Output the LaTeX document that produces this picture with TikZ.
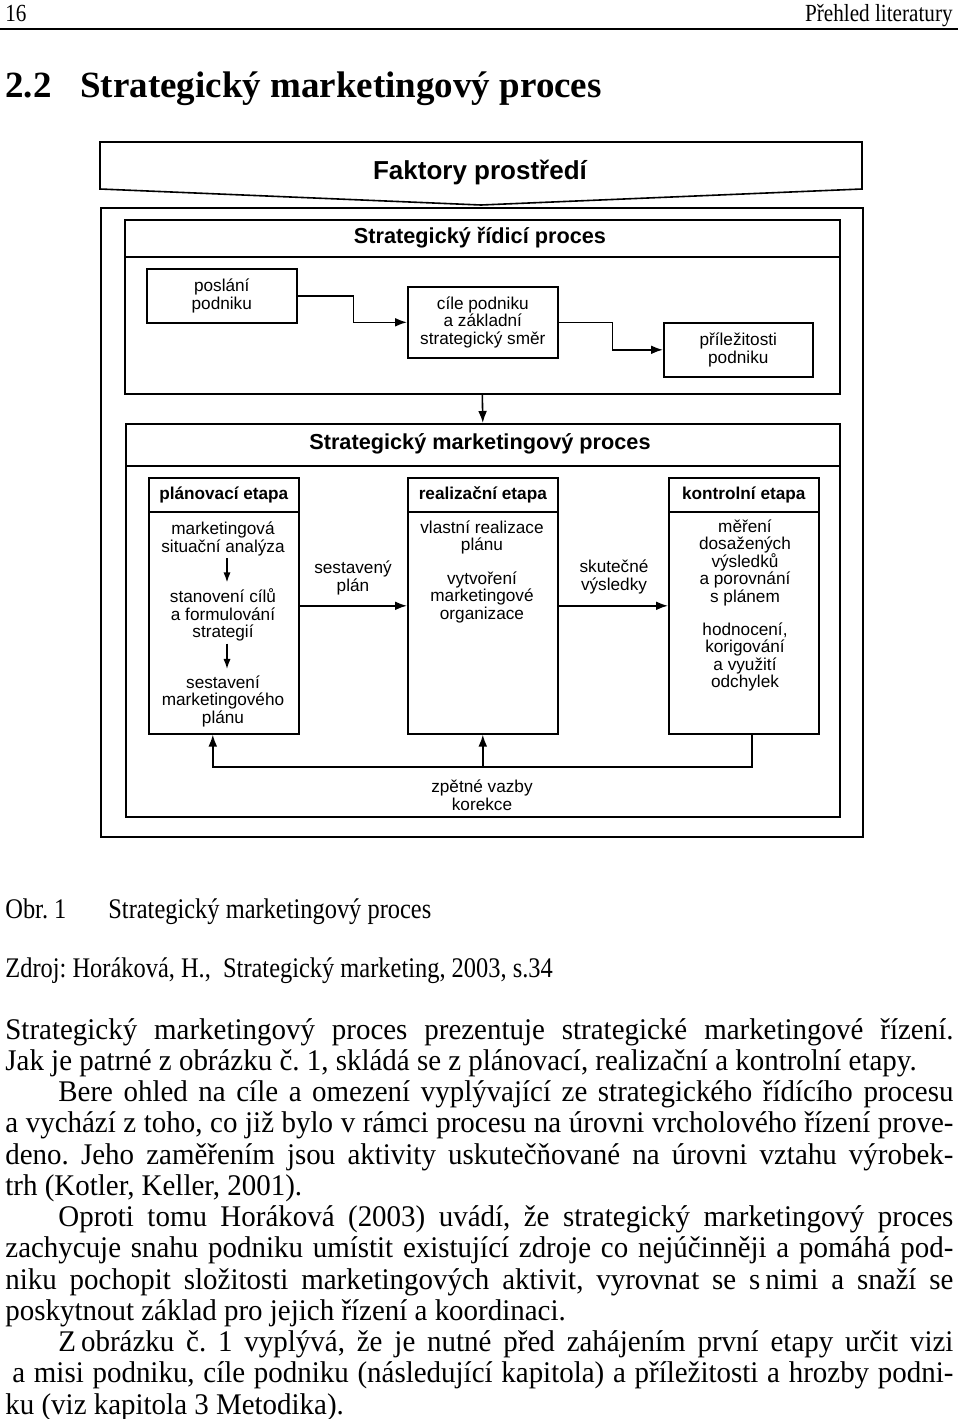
\documentclass[tikz,border=0pt]{standalone}
\usepackage{fontspec}
\setmainfont{Liberation Serif}
\newfontfamily\bodyfont[FakeStretch=0.965]{Liberation Serif}
\newfontfamily\capfont[FakeStretch=0.86]{Liberation Serif}
\newfontfamily\diagfont{Liberation Sans}
\usetikzlibrary{arrows.meta,calc}

% one justified line of the page text
\newcommand{\jl}[1]{\makebox[474pt][s]{#1}}
\newcommand{\il}[1]{\makebox[474pt][s]{\hspace*{26.5pt}#1}}

\tikzset{
  frame/.style={draw, line width=0.8pt, inner sep=0pt, anchor=north west},
  box/.style={frame, align=center, font=\diagfont\fontsize{8.6pt}{8.75pt}\selectfont},
  txt/.style={align=center, inner sep=0pt, font=\diagfont\fontsize{8.6pt}{8.75pt}\selectfont},
  head/.style={align=center, inner sep=0pt, font=\diagfont\bfseries\fontsize{8.6pt}{8.75pt}\selectfont},
  title/.style={inner sep=0pt, font=\diagfont\bfseries\fontsize{10.85pt}{12pt}\selectfont},
  arr/.style={-{Latex[length=6pt,width=4.4pt]}, line width=0.8pt},
  sarr/.style={-{Latex[length=5pt,width=3.6pt]}, line width=0.7pt},
  body/.style={inner sep=0pt, anchor=base west, font=\bodyfont\fontsize{15pt}{15.6pt}\selectfont},
  capt/.style={body, font=\capfont\fontsize{14.2pt}{15.6pt}\selectfont},
}

\begin{document}
\frenchspacing
\begin{tikzpicture}[x=0.5pt, y=-0.5pt]
  \fill[white] (0,0) rectangle (960,1419);
  \useasboundingbox (0,0) rectangle (960,1419);

  % page head
  \node[capt, font=\capfont\fontsize{12.3pt}{14pt}\selectfont] (pnum) at (5,21) {16};
  \node[capt, anchor=base east, font=\capfont\fontsize{12.3pt}{14pt}\selectfont] (phead) at (953,21) {Přehled literatury};
  \draw[line width=0.75pt] (0,29) -- (958,29);
  \node[body, font=\rmfamily\bfseries\fontsize{18.5pt}{20pt}\selectfont] (secnum) at (5,97) {2.2};
  \node[body, font=\rmfamily\bfseries\fontsize{18.5pt}{20pt}\selectfont] (sectitle) at (80,97) {Strategický marketingový proces};

  % environment factors
  \draw[line width=0.8pt] (100,142) -- (862,142) -- (862,189) -- (481,205) -- (100,189) -- cycle;
  \node[title, font=\diagfont\bfseries\fontsize{13pt}{14pt}\selectfont] (faktory) at (480,172) {Faktory prostředí};
  \node[frame, minimum width=381pt, minimum height=314.5pt] (outer) at (100,207) {};

  % strategic management process
  \node[frame, minimum width=357.5pt, minimum height=87pt] (ridici) at (124,219) {};
  \draw[line width=0.8pt] ([yshift=-19pt]ridici.north west) -- ([yshift=-19pt]ridici.north east);
  \node[title] (ridicititle) at (480,238) {Strategický řídicí proces};
  \node[box, minimum width=75pt, minimum height=27pt] (poslani) at (146,268) {poslání\\podniku};
  \node[box, minimum width=75pt, minimum height=35.5pt] (cile) at (407,286) {cíle podniku\\a základní\\strategický směr};
  \node[box, minimum width=74.5pt, minimum height=27pt] (prilez) at (663,322) {příležitosti\\podniku};
  \draw[arr] (poslani.east) -- ++(56,0) |- (cile.west);
  \draw[arr] (cile.east) -- ++(54,0) |- (prilez.west);

  % strategic marketing process
  \node[frame, minimum width=357pt, minimum height=196.5pt] (mkt) at (125,423) {};
  \draw[line width=0.8pt] ([yshift=-21.5pt]mkt.north west) -- ([yshift=-21.5pt]mkt.north east);
  \node[title] (mkttitle) at (480,444) {Strategický marketingový proces};
  \draw[arr] (ridici.south) -- (mkt.north);

  \node[frame, minimum width=75pt, minimum height=128pt] (plan) at (148,477) {};
  \node[frame, minimum width=75pt, minimum height=128pt] (real) at (407,477) {};
  \node[frame, minimum width=75pt, minimum height=128pt] (kontr) at (668,477) {};
  \foreach \c/\t in {plan/plánovací etapa, real/realizační etapa, kontr/kontrolní etapa} {
    \draw[line width=0.8pt] ([yshift=-17.5pt]\c.north west) -- ([yshift=-17.5pt]\c.north east);
    \node[head] (\c head) at ([yshift=-8.75pt]\c.north) {\t};
  }

  \node[txt] (pm1) at (223,539) {marketingová\\situační analýza};
  \node[txt] (pm2) at (223,615) {stanovení cílů\\a formulování\\strategií};
  \node[txt] (pm3) at (223,701) {sestavení\\marketingového\\plánu};
  \draw[sarr, shorten <=1pt, shorten >=3pt] ([xshift=2pt]pm1.south) -- ([xshift=2pt]pm2.north);
  \draw[sarr, shorten <=1pt, shorten >=3pt] ([xshift=2pt]pm2.south) -- ([xshift=2pt]pm3.north);

  \node[txt] (rm1) at (482,537.5) {vlastní realizace\\plánu};
  \node[txt] (rm2) at (482,597) {vytvoření\\marketingové\\organizace};

  \node[txt] (km1) at (745,562.5) {měření\\dosažených\\výsledků\\a porovnání\\s plánem};
  \node[txt] (km2) at (745,657) {hodnocení,\\korigování\\a využití\\odchylek};

  \draw[arr] (plan.east) -- (real.west);
  \node[txt] (sestaveny) at (353,578) {sestavený\\plán};
  \draw[arr] (real.east) -- (kontr.west);
  \node[txt] (skutecne) at (614,577) {skutečné\\výsledky};

  % feedback
  \coordinate (fb) at (482,767);
  \draw[arr] ([xshift=4pt]kontr.south) |- ([xshift=-5.5pt]plan.south |- fb) -- ([xshift=-5.5pt]plan.south);
  \draw[arr] (real.south |- fb) -- (real.south);
  \node[txt] (zpetne) at (482,795) {zpětné vazby\\korekce};

  % caption and source
  \node[capt] (obr) at (5,918) {Obr. 1};
  \node[capt] (caption) at (108,918) {Strategický marketingový proces};
  \node[capt] (zdroj) at (5,977) {Zdroj: Horáková, H.,\ \ Strategický marketing, 2003, s.34};

  % running text
  \foreach \t [count=\i] in {
    {\jl{Strategický marketingový proces prezentuje strategické marketingové řízení.}},
    {Jak je patrné z obrázku č. 1, skládá se z plánovací, realizační a kontrolní etapy.},
    {\il{Bere ohled na cíle a omezení vyplývající ze strategického řídícího procesu}},
    {\jl{a vychází z toho, co již bylo v rámci procesu na úrovni vrcholového řízení prove-}},
    {\jl{deno. Jeho zaměřením jsou aktivity uskutečňované na úrovni vztahu výrobek-}},
    {trh (Kotler, Keller, 2001).},
    {\il{Oproti tomu Horáková (2003) uvádí, že strategický marketingový proces}},
    {\jl{zachycuje snahu podniku umístit existující zdroje co nejúčinněji a pomáhá pod-}},
    {\jl{niku pochopit složitosti marketingových aktivit, vyrovnat se s\,nimi a snaží se}},
    {poskytnout základ pro jejich řízení a koordinaci.},
    {\il{Z\,obrázku č. 1 vyplývá, že je nutné před zahájením první etapy určit vizi}},
    {\jl{\hspace*{3.5pt}a misi podniku, cíle podniku (následující kapitola) a příležitosti a hrozby podni-}},
    {ku (viz kapitola 3 Metodika).}
  }
    \node[body] (line\i) at (5,{1039+31.25*(\i-1)}) {\t};
\end{tikzpicture}
\end{document}
